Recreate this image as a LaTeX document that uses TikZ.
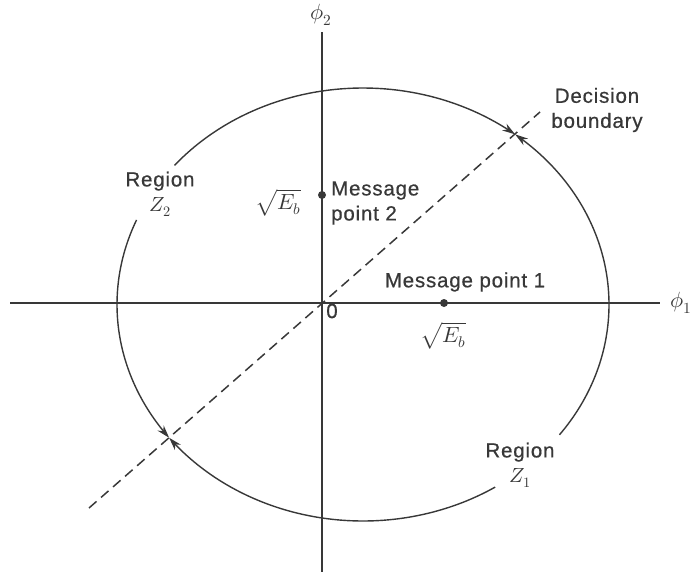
\documentclass[tikz,border=0pt]{standalone}
\usepackage{fontspec}
\usepackage{unicode-math}
\setmainfont{Liberation Sans}
\setmathfont{Latin Modern Math}
\usetikzlibrary{arrows.meta}
\definecolor{ink}{HTML}{383838}
\begin{document}
\begin{tikzpicture}[x=1pt,y=-1pt,
  lbl/.style={text=ink,font=\fontsize{20.5}{25}\selectfont\addfontfeature{LetterSpace=4,FakeBold=0.6},inner sep=0pt},
  mth/.style={text=ink,font=\fontsize{22}{25}\selectfont,inner sep=0pt},
  axis/.style={draw=ink,line width=1.8pt},
  rim/.style={draw=ink,line width=1.4pt},
  rimarrow/.style={rim,-{Stealth[length=13pt,width=8pt]}},
  bound/.style={draw=ink,line width=1.5pt,dash pattern=on 10pt off 6pt},
  dot/.style={circle,fill=ink,minimum size=8pt,inner sep=0pt}]
\useasboundingbox (0,0) rectangle (695,579);
% axes
\coordinate (xl) at (10,303);
\coordinate (xr) at (660,303);
\coordinate (yt) at (322,32);
\coordinate (yb) at (322,572);
\coordinate (o) at (322,303);
\draw[axis] (xl) -- (xr);
\draw[axis] (yt) -- (yb);
% decision boundary
\coordinate (dl) at (89,508);
\coordinate (du) at (540,112);
\draw[bound] (dl) -- (du);
% ellipse (centre 363,304.5; rx 246, ry 216.5)
\draw[rimarrow] plot[domain=-37:51.8,samples=80] ({363+246*cos(\x)},{304.5-216.5*sin(\x)});
\draw[rimarrow] plot[domain=140:51.8,samples=80] ({363+246*cos(\x)},{304.5-216.5*sin(\x)});
\draw[rimarrow] plot[domain=157:218,samples=60] ({363+246*cos(\x)},{304.5-216.5*sin(\x)});
\draw[rimarrow] plot[domain=302.5:218,samples=80] ({363+246*cos(\x)},{304.5-216.5*sin(\x)});
% message points
\node[dot] (m2) at (322,195) {};
\node[dot] (m1) at (444,303) {};
% labels
\node[mth] (phi2) at (321,15) {$\phi_2$};
\node[mth,anchor=west] (phi1) at (670,303) {$\phi_1$};
\node[lbl,align=center] (dec) at (597,110) {Decision\\boundary};
\node[lbl,align=center] (rz2) at (160,194) {Region\\$Z_2$};
\node[lbl,align=left,anchor=west] (mp2) at (331,203) {Message\\point 2};
\node[mth] (e2) at (278,203) {$\sqrt{E_b}$};
\node[lbl] (mp1) at (465,282) {Message point 1};
\node[lbl] (zero) at (332,311) {0};
\node[mth] (e1) at (443,336) {$\sqrt{E_b}$};
\node[lbl,align=center] (rz1) at (520,465) {Region\\$Z_1$};
\end{tikzpicture}
\end{document}
